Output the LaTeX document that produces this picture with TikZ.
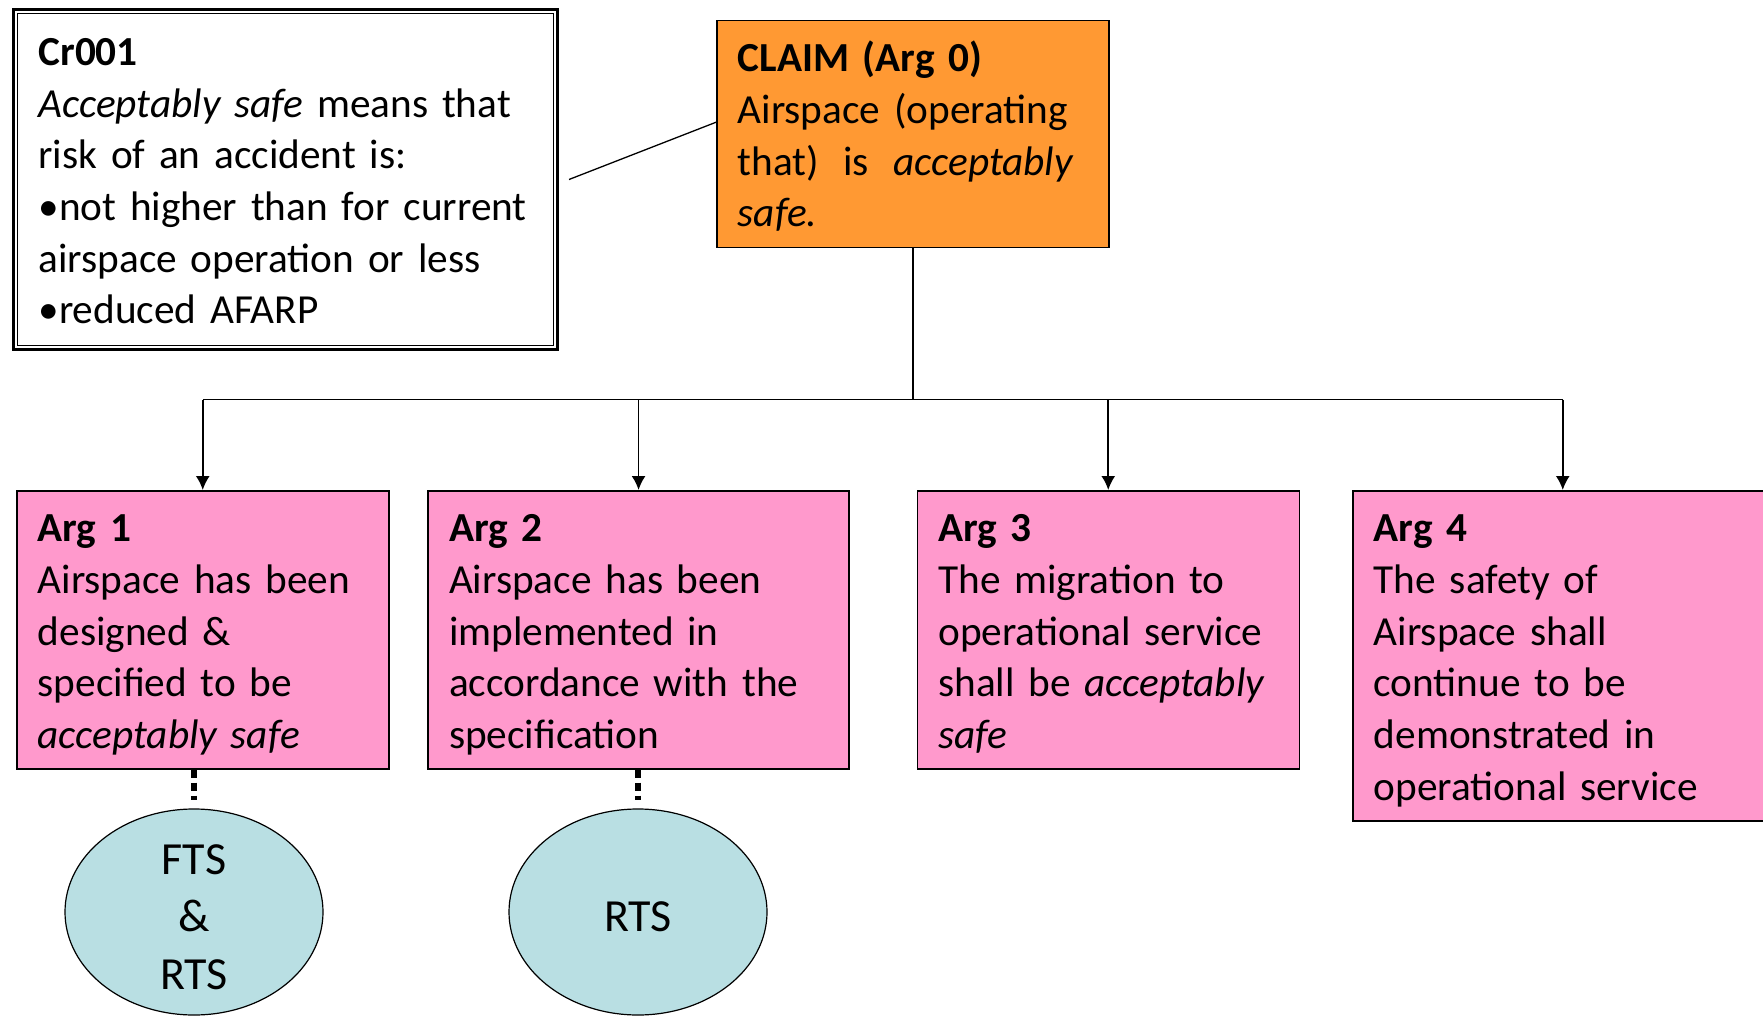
\documentclass[tikz,border=0pt]{standalone}
\usepackage{fontspec}
\setmainfont{Carlito}
\usetikzlibrary{positioning,shapes.geometric,arrows.meta}
\definecolor{claimorange}{HTML}{FF9933}
\definecolor{argpink}{HTML}{FF99CC}
\definecolor{solnblue}{HTML}{B9DFE3}

\begin{document}
\begin{tikzpicture}[x=1pt,y=-1pt]
    \tikzset{
      gsnbox/.style = {rectangle, draw, line width=1.5pt, anchor=north west,
      inner xsep=21pt, inner ysep=21pt, text height=30pt, align=left,
      font=\fontsize{41.3}{51.7}\selectfont},
      argbox/.style = {gsnbox, fill=argpink, text depth=206pt},
      solnode/.style = {ellipse, draw, line width=1.2pt, fill=solnblue,
      minimum width=258pt, minimum height=206pt, inner sep=0pt,
      text width=120pt, align=center, font=\fontsize{46}{57.5}\selectfont},
      link/.style = {line width=1.8pt},
      dotlink/.style = {line width=5.5pt, dash pattern=on 8pt off 5pt}
    }
    \useasboundingbox (0,0) rectangle (1763,1016);

    % context and claim
    \node[gsnbox, line width=3pt, text width=494pt, inner xsep=25pt,
      inner ysep=26pt, text depth=258pt] (cr) at (12,8)
      {\textbf{Cr001}\\
       \textit{Acceptably safe} means that\\
       risk of an accident is:\\
       •not higher than for current\\
       airspace operation or less\\
       •reduced AFARP};
    \draw[line width=1.2pt] ([shift={(5.5pt,-5.5pt)}]cr.north west)
      rectangle ([shift={(-5.5pt,5.5pt)}]cr.south east);

    \node[gsnbox, fill=claimorange, text width=350pt, text depth=155pt]
      (claim) at (716,20)
      {\textbf{CLAIM (Arg 0)}\\
       Airspace (operating\\
       \makebox[336pt][l]{that)\hfill is\hfill\textit{acceptably}}\\
       \textit{safe.}};
    \draw[link, line width=1.3pt] ([xshift=10pt]cr.east) -- ([yshift=12pt]claim.west);

    % arguments
    \node[argbox, text width=330pt] (arg1) at (16,490)
      {\textbf{Arg 1}\\ Airspace has been\\ designed \&\\ specified to be\\
       \textit{acceptably safe}};
    \node[argbox, text width=379pt, right=37.8pt of arg1.north east,
      anchor=north west] (arg2)
      {\textbf{Arg 2}\\ Airspace has been\\ implemented in\\
       accordance with the\\ specification};
    \node[argbox, text width=340pt, right=66.7pt of arg2.north east,
      anchor=north west] (arg3)
      {\textbf{Arg 3}\\ The migration to\\ operational service\\
       shall be \textit{acceptably}\\ \textit{safe}};
    \node[argbox, text width=378pt, text depth=258pt,
      right=52pt of arg3.north east, anchor=north west] (arg4)
      {\textbf{Arg 4}\\ The safety of\\ Airspace shall\\ continue to be\\
       demonstrated in\\ operational service};

    \coordinate (bus) at ([yshift=-151pt]claim.south);
    \draw[link] (claim.south) -- (bus);
    \draw[link] (bus -| arg1.north) -- (bus -| arg4.north);
    \foreach \n in {arg1,arg2,arg3,arg4}
      \draw[link, -{Latex[length=14pt,width=14pt]}] (bus -| \n.north) -- (\n.north);

    % solutions
    \node[solnode, text height=34pt, text depth=110pt] (fts) at (194,912)
      {FTS\\\&\\RTS};
    \node[solnode, text height=38pt, text depth=0pt] (rts) at (638,912) {RTS};
    \draw[dotlink] (fts.north |- arg1.south) -- ([yshift=8pt]fts.north);
    \draw[dotlink] (rts.north |- arg2.south) -- ([yshift=8pt]rts.north);
\end{tikzpicture}
\end{document}
